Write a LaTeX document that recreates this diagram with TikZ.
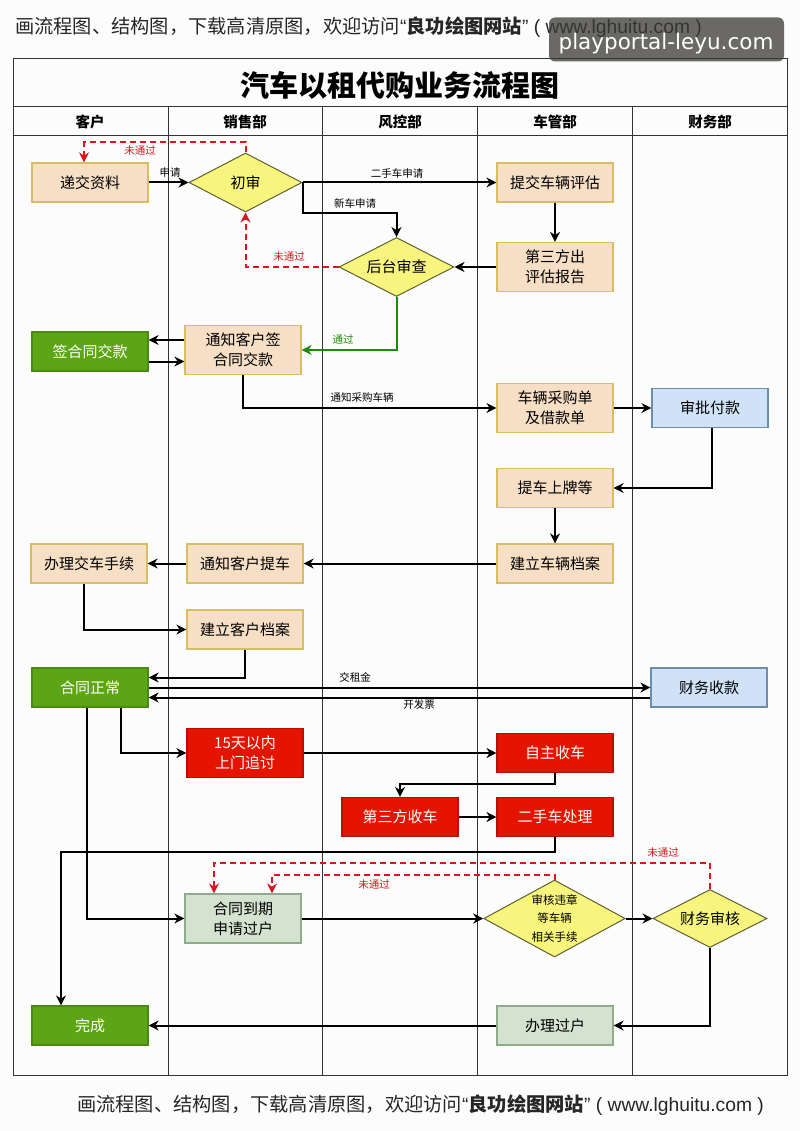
\documentclass[tikz,border=0pt]{standalone}
\usepackage{fontspec}
\setmainfont{Noto Sans CJK SC}
\newfontfamily\markfont{DejaVu Sans}
\newfontfamily\latinfont{Liberation Sans}
\usetikzlibrary{shapes.geometric,arrows.meta}

\definecolor{beigefill}{HTML}{F6DFC5}
\definecolor{beigeline}{HTML}{D8BE62}
\definecolor{yellowfill}{HTML}{F8F57E}
\definecolor{yellowline}{HTML}{5F6030}
\definecolor{greenfill}{HTML}{5CA515}
\definecolor{greenline}{HTML}{4A8A12}
\definecolor{redfill}{HTML}{E51400}
\definecolor{redline}{HTML}{B81000}
\definecolor{bluefill}{HTML}{CFE2F7}
\definecolor{blueline}{HTML}{6F8CA8}
\definecolor{sagefill}{HTML}{D3E3D0}
\definecolor{sageline}{HTML}{8FAB8C}
\definecolor{backred}{HTML}{D8161F}
\definecolor{passgreen}{HTML}{1E8A0A}
\definecolor{markgray}{HTML}{3A3934}

\newcommand{\adtext}{画流程图、结构图，下载高清原图，欢迎访问{\latinfont “}\textbf{良功绘图网站}{\latinfont ” ( www.lghuitu.com )}}

\tikzset{
    box/.style={rectangle,minimum width=116pt,minimum height=39pt,inner sep=0pt,line width=1.2pt,
        align=center,font=\fontsize{15}{20}\selectfont},
    tallbox/.style={box,minimum height=49pt},
    beige/.style={box,fill=beigefill,draw=beigeline},
    beigetall/.style={tallbox,fill=beigefill,draw=beigeline},
    greenbox/.style={box,fill=greenfill,draw=greenline,text=white},
    redbox/.style={box,fill=redfill,draw=redline,text=white},
    redtall/.style={tallbox,fill=redfill,draw=redline,text=white},
    bluebox/.style={box,fill=bluefill,draw=blueline},
    sagebox/.style={box,fill=sagefill,draw=sageline},
    sagetall/.style={tallbox,fill=sagefill,draw=sageline},
    check/.style={diamond,aspect=2,inner sep=0pt,line width=1pt,fill=yellowfill,draw=yellowline,
        align=center,font=\fontsize{15}{20}\selectfont},
    lanehead/.style={font=\bfseries\fontsize{14.5}{16}\selectfont,inner sep=0pt},
    note/.style={font=\fontsize{10.5}{12}\selectfont,inner sep=0pt},
    backnote/.style={note,text=backred},
    flow/.style={line width=2pt,-{Stealth[length=10pt,width=10pt]}},
    back/.style={line width=2pt,draw=backred,dash pattern=on 6pt off 4pt,
        -{Stealth[length=10pt,width=10pt,fill=backred]}},
    pass/.style={flow,draw=passgreen},
    adline/.style={font=\fontsize{19.25}{22}\selectfont,inner sep=0pt,text=black!85}
}

\begin{document}
\begin{tikzpicture}[x=1pt,y=-1pt]
    \useasboundingbox[fill=white!99!black] (0,0) rectangle (800,1131);

    \node[adline,anchor=west] (adtop) at (15,27) {\adtext};
    \node[adline,anchor=west] (adbottom) at (77,1105) {\adtext};

    \draw[line width=1pt,black!80] (13,59) rectangle (787,1075);
    \draw[line width=1pt,black!80] (13,107) -- (787,107);
    \draw[line width=1pt,black!80] (13,136) -- (787,136);
    \foreach \lanex in {168,322.5,477.5,632}
        \draw[line width=.8pt,black!80] (\lanex,107) -- (\lanex,1075);

    \node[fill=markgray,fill opacity=.75,rounded corners=6pt,minimum width=235pt,minimum height=44pt,inner sep=0pt] (portal) at (666.5,39.5) {};
    \node[text=white,inner sep=0pt,font=\markfont\fontsize{21.5}{24}\selectfont] (portaltext) at (666,44) {playportal-leyu.com};

    \node[font=\bfseries\fontsize{29}{32}\selectfont,inner sep=0pt] (title) at (400,85) {汽车以租代购业务流程图};
    \node[lanehead] (kehu) at (90,122) {客户};
    \node[lanehead] (xiaoshou) at (245,122) {销售部};
    \node[lanehead] (fengkong) at (400,122) {风控部};
    \node[lanehead] (cheguan) at (555,122) {车管部};
    \node[lanehead] (caiwu) at (710,122) {财务部};

    \node[beige] (dijiao) at (90,182.5) {递交资料};
    \node[check,minimum width=113pt,minimum height=59pt] (chushen) at (245.5,182.5) {初审};
    \node[beige] (tijiao) at (555,182.5) {提交车辆评估};
    \node[beigetall] (baogao) at (555,267) {第三方出\\评估报告};
    \node[check,minimum width=115pt,minimum height=59pt] (houtai) at (396.5,267) {后台审查};
    \node[greenbox] (qian) at (90,351.5) {签合同交款};
    \node[beigetall] (tongzhi) at (243,350) {通知客户签\\合同交款};
    \node[beigetall] (caigou) at (555,408) {车辆采购单\\及借款单};
    \node[bluebox] (shenpi) at (710,408) {审批付款};
    \node[beige] (shangpai) at (555,488) {提车上牌等};
    \node[beige] (dangan) at (555,563.5) {建立车辆档案};
    \node[beige] (tiche) at (245,563.5) {通知客户提车};
    \node[beige] (jiaoche) at (89,563.5) {办理交车手续};
    \node[beige] (kehudangan) at (245,629.5) {建立客户档案};
    \node[greenbox] (zhengchang) at (90,687.5) {合同正常};
    \node[bluebox] (shoukuan) at (709,687.5) {财务收款};
    \node[redtall] (zhuitao) at (245,753) {15天以内\\上门追讨};
    \node[redbox] (zizhu) at (555,753) {自主收车};
    \node[redbox] (disanfang) at (400,817) {第三方收车};
    \node[redbox] (ershou) at (555,817) {二手车处理};
    \node[sagetall] (daoqi) at (243,918.5) {合同到期\\申请过户};
    \node[check,minimum width=139pt,minimum height=77pt,font=\fontsize{11.5}{18.5}\selectfont] (weizhang) at (554.5,918.5) {审核违章\\等车辆\\相关手续};
    \node[check,minimum width=114pt,minimum height=58pt] (heshi) at (710,918.5) {财务审核};
    \node[sagebox] (guohu) at (555,1025.5) {办理过户};
    \node[greenbox] (wancheng) at (90,1025.5) {完成};

    \draw[flow] (dijiao) -- (chushen);
    \draw[flow] (chushen) -- (tijiao);
    \draw[flow] (chushen.east) -- ++(0,31) -| (houtai.north);
    \draw[flow] (tijiao) -- (baogao);
    \draw[flow] (baogao) -- (houtai);
    \draw[back] (houtai.west) -| (chushen.south);
    \draw[back] (chushen.north) -- ++(0,-10) -| ([xshift=-6pt]dijiao.north);
    \draw[pass] (houtai.south) |- (tongzhi.east);
    \draw[flow] ([yshift=10pt]tongzhi.west) -- ([yshift=10pt]tongzhi.west -| qian.east);
    \draw[flow] ([yshift=-10pt]qian.east) -- ([yshift=-10pt]qian.east -| tongzhi.west);
    \draw[flow] (tongzhi.south) |- (caigou.west);
    \draw[flow] (caigou) -- (shenpi);
    \draw[flow] ([xshift=2pt]shenpi.south) |- (shangpai.east);
    \draw[flow] (shangpai) -- (dangan);
    \draw[flow] (dangan) -- (tiche);
    \draw[flow] (tiche) -- (jiaoche);
    \draw[flow] ([xshift=-5pt]jiaoche.south) |- (kehudangan.west);
    \draw[flow] (kehudangan.south) |- ([yshift=10pt]zhengchang.east);
    \draw[flow] (zhengchang) -- (shoukuan);
    \draw[flow] ([yshift=-10pt]shoukuan.west) -- ([yshift=-10pt]zhengchang.east);
    \draw[flow] ([xshift=31pt]zhengchang.south) |- (zhuitao.west);
    \draw[flow] (zhuitao) -- (zizhu);
    \draw[flow] (zizhu.south) -- ++(0,11) -| (disanfang.north);
    \draw[flow] (disanfang) -- (ershou);
    \draw[flow] (ershou.south) -- ++(0,15) -| ([xshift=-29pt]wancheng.north);
    \draw[flow] ([xshift=-3pt]zhengchang.south) |- (daoqi.west);
    \draw[flow] (daoqi) -- (weizhang);
    \draw[flow] (weizhang) -- (heshi);
    \draw[back] (weizhang.north) -- ++(0,-5) -| ([xshift=29pt]daoqi.north);
    \draw[back] (heshi.north) -- ++(0,-26) -| ([xshift=-29pt]daoqi.north);
    \draw[flow] (heshi.south) |- (guohu.east);
    \draw[flow] (guohu) -- (wancheng);

    \node[note] (shenqing) at (170,173) {申请};
    \node[note] (ershouche) at (397,173) {二手车申请};
    \node[note] (xinche) at (355,203) {新车申请};
    \node[backnote] (weitonga) at (140,151) {未通过};
    \node[backnote] (weitongb) at (289,257) {未通过};
    \node[note,text=passgreen] (tongguo) at (343,339) {通过};
    \node[note] (caigouche) at (362,397) {通知采购车辆};
    \node[note] (zujin) at (355,677) {交租金};
    \node[note] (fapiao) at (419,705) {开发票};
    \node[backnote] (weitongc) at (374,885) {未通过};
    \node[backnote] (weitongd) at (663,853) {未通过};
\end{tikzpicture}
\end{document}
